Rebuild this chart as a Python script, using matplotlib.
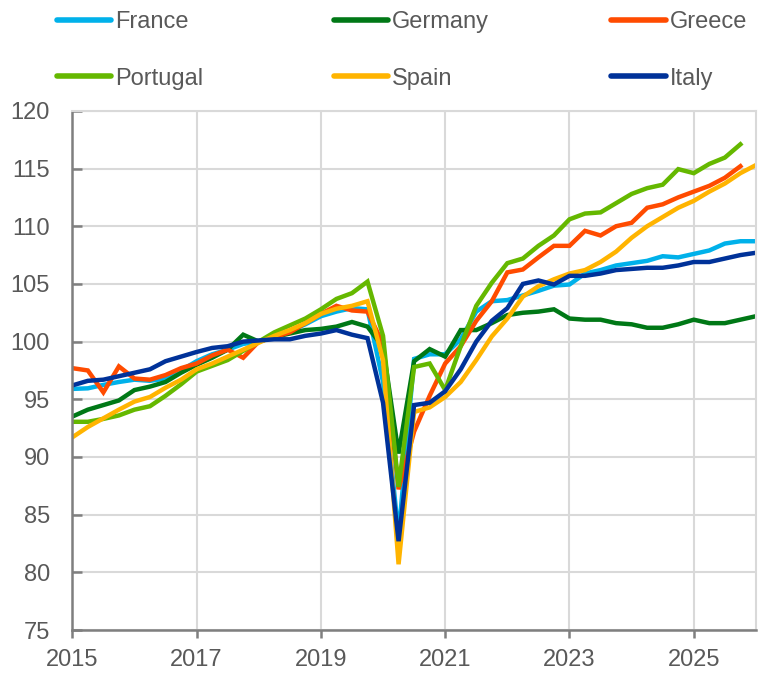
import numpy as np
import matplotlib.pyplot as plt
from matplotlib.lines import Line2D

plt.rcParams['font.family'] = ['Liberation Sans', 'DejaVu Sans']

# quarterly index, 2015Q1 onwards
start_year = 2015
france = [95.9, 95.95, 96.25, 96.5, 96.7, 96.6, 96.8, 97.5, 98.3, 98.9, 99.3, 99.8,
          100.0, 100.4, 100.9, 101.5, 102.2, 102.6, 102.9, 102.8, 96.5, 83.2, 98.5, 98.9,
          98.9, 100.2, 102.6, 103.5, 103.6, 104.0, 104.4, 104.85, 104.95, 105.9, 106.2, 106.6,
          106.8, 107.0, 107.4, 107.3, 107.6, 107.9, 108.5, 108.7, 108.7]
germany = [93.5, 94.1, 94.5, 94.9, 95.8, 96.1, 96.5, 97.3, 98.0, 98.6, 99.3, 100.6,
           100.0, 100.4, 100.7, 101.0, 101.1, 101.3, 101.7, 101.3, 99.5, 90.3, 98.3, 99.35,
           98.7, 101.0, 101.0, 101.6, 102.3, 102.5, 102.6, 102.8, 102.0, 101.9, 101.9, 101.6,
           101.5, 101.2, 101.2, 101.5, 101.9, 101.6, 101.6, 101.9, 102.2]
greece = [97.7, 97.5, 95.6, 97.85, 96.8, 96.7, 97.1, 97.7, 98.1, 98.8, 99.3, 98.6,
          100.0, 100.4, 100.8, 101.6, 102.4, 103.1, 102.7, 102.6, 99.8, 87.2, 92.2, 95.3,
          98.1, 99.6, 101.8, 103.5, 106.0, 106.25, 107.3, 108.3, 108.3, 109.6, 109.2, 110.0,
          110.3, 111.6, 111.9, 112.5, 113.0, 113.5, 114.2, 115.2]
portugal = [93.05, 93.05, 93.3, 93.6, 94.1, 94.4, 95.3, 96.3, 97.4, 97.9, 98.4, 99.2,
            100.0, 100.8, 101.4, 102.0, 102.8, 103.7, 104.2, 105.2, 100.5, 87.4, 97.8, 98.1,
            95.8, 99.6, 103.1, 105.1, 106.8, 107.2, 108.3, 109.2, 110.6, 111.1, 111.2, 112.0,
            112.8, 113.3, 113.6, 114.95, 114.6, 115.4, 115.95, 117.1]
spain = [91.7, 92.6, 93.35, 94.1, 94.8, 95.2, 96.0, 96.7, 97.6, 98.1, 98.7, 99.3,
         99.9, 100.5, 101.0, 101.6, 102.4, 102.85, 103.1, 103.5, 98.4, 80.7, 93.9, 94.3,
         95.2, 96.5, 98.4, 100.45, 102.0, 103.9, 104.8, 105.4, 105.9, 106.2, 106.9, 107.8,
         109.0, 110.0, 110.8, 111.6, 112.2, 113.0, 113.7, 114.6, 115.3]
italy = [96.2, 96.6, 96.7, 97.0, 97.3, 97.6, 98.3, 98.7, 99.1, 99.45, 99.6, 100.0,
         100.1, 100.2, 100.2, 100.5, 100.7, 101.0, 100.6, 100.3, 94.7, 82.7, 94.5, 94.7,
         95.7, 97.6, 100.0, 101.8, 102.9, 105.0, 105.3, 104.95, 105.7, 105.7, 105.9, 106.2,
         106.3, 106.4, 106.4, 106.6, 106.9, 106.9, 107.2, 107.5, 107.7]

names = ['France', 'Germany', 'Greece', 'Portugal', 'Spain', 'Italy']
series = [france, germany, greece, portugal, spain, italy]
colors = ['#00B1EA', '#007816', '#FF4B00', '#65B800', '#FFB400', '#003299']

fig = plt.figure(figsize=(7.69, 6.76), dpi=100)
ax = fig.add_axes([0.094, 0.068, 0.889, 0.768])

for vals, c, n in zip(series, colors, names):
    t = start_year + np.arange(len(vals)) / 4
    ax.plot(t, vals, color=c, lw=3.2, label=n, solid_joinstyle='miter')

ax.set_xlim(2015, 2026)
ax.set_ylim(75, 120)
ax.set_xticks(np.arange(2015, 2026, 2))
ax.set_yticks(np.arange(75, 121, 5))
ax.grid(True, color='#d9d9d9', lw=1.5)
ax.set_axisbelow(True)

txt = '#595959'
for s in ['top', 'right']:
    ax.spines[s].set_color('#d9d9d9')
    ax.spines[s].set_linewidth(1.5)
for s in ['left', 'bottom']:
    ax.spines[s].set_color('#7f7f7f')
    ax.spines[s].set_linewidth(1.8)
ax.tick_params(axis='y', direction='in', length=7, width=1.8, color='#7f7f7f',
               labelsize=17, labelcolor=txt, pad=16)
ax.tick_params(axis='x', direction='out', length=6, width=1.8, color='#7f7f7f',
               labelsize=17, labelcolor=txt, pad=8)

# legend, one block per column
handles = [Line2D([], [], color=c, lw=4, solid_capstyle='round') for c in colors]
col_x = [0.074, 0.434, 0.795]
for k in range(3):
    idx = [k, k + 3]
    fig.legend([handles[i] for i in idx], [names[i] for i in idx],
               loc='upper left', bbox_to_anchor=(col_x[k], 0.983), frameon=False,
               fontsize=17, labelcolor=txt, handlelength=2.3, handletextpad=0.17,
               labelspacing=1.45, borderpad=0, borderaxespad=0)

fig.savefig('out.png', dpi=100)
